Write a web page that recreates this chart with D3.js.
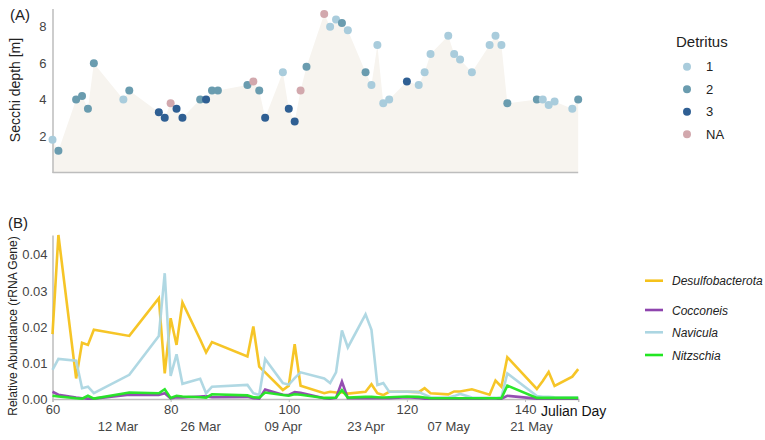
<!DOCTYPE html>
<html><head><meta charset="utf-8">
<script src="https://cdn.jsdelivr.net/npm/d3@7"></script>
<style>body{margin:0;background:#fff}svg{display:block;font-family:"Liberation Sans",Arial,sans-serif}</style>
</head><body>
<svg id="c" width="765" height="440"></svg>
<script>
// ---- Panel A data: Secchi depth ----
const secchiDays = [60,61,64,65,66,67,72,73,78,79,80,81,82,85,86,87,88,93,94,95,96,99,100,101,102,103,106,107,108,109,110,113,114,115,116,117,120,122,123,124,127,128,129,131,134,135,136,137,142,143,144,145,148,149];
const secchiDepth = [1.8,1.2,4.0,4.2,3.5,6.0,4.0,4.5,3.3,3.0,3.8,3.5,3.0,4.0,4.0,4.5,4.5,4.8,5.0,4.5,3.0,5.5,3.5,2.8,4.5,5.8,8.7,8.0,8.4,8.2,7.8,5.5,4.8,7.0,3.8,4.0,5.0,4.8,5.5,6.5,7.5,6.5,6.2,5.5,7.0,7.5,7.0,3.8,4.0,4.0,3.7,3.9,3.5,4.0];
const detritus = ["1","2","2","2","2","2","1","2","3","3","NA","3","3","2","3","2","2","2","NA","2","3","1","3","3","NA","2","NA","1","1","2","1","2","1","1","1","1","3","1","1","1","1","1","1","1","1","1","1","2","2","1","1","1","1","2"];
const detritusLevels = ["1","2","3","NA"];
const detritusColors = ["#a9ccdc","#6a9caf","#2f5f93","#d2a8ad"];
const secchiTicks = [2,4,6,8];

// ---- Panel B data: relative abundance ----
const abDays = [60,61,64,65,66,67,73,78,79,80,81,82,85,86,87,93,94,95,96,99,100,101,102,106,107,108,109,110,113,114,115,116,117,120,122,123,124,127,128,129,131,134,135,136,137,142,143,144,145,148,149];
const desulfo = [0.018,0.0455,0.0057,0.0156,0.015,0.0192,0.0175,0.028,0.0071,0.0224,0.015,0.0268,0.0165,0.0129,0.0158,0.0118,0.0201,0.009,0.0074,0.0025,0.0037,0.0152,0.0037,0.0016,0.002,0.0018,0.0018,0.0015,0.002,0.0041,0.0016,0.0011,0.002,0.002,0.0019,0.003,0.0016,0.0013,0.0021,0.0021,0.0027,0.0012,0.0051,0.0034,0.0116,0.0028,0.005,0.0075,0.0036,0.0062,0.0083];
const cocconeis = [0.002,0.0012,0.0004,0.0002,0.0001,0.0001,0.0012,0.0011,0.0016,0.0002,0.0005,0.0004,0.0007,0.0008,0.0005,0.0006,0.0002,0.0001,0.0026,0.0012,0.0011,0.0019,0.0017,0.0002,0.0001,0.0003,0.0048,0.0002,0.0002,0.0003,0.0002,0.0002,0.0002,0.0005,0.0003,0.0001,0.0001,0.0001,0.0001,0.0001,0.0001,0.0001,0.0001,0.0001,0.0009,0.0001,0.0001,0.0001,0.0001,0.0001,0.0001];
const navicula = [0.0081,0.0111,0.0106,0.003,0.0034,0.0016,0.0067,0.0175,0.0349,0.0064,0.0124,0.0042,0.0056,0.0016,0.0034,0.0039,0.0016,0.0011,0.0111,0.0044,0.004,0.0058,0.0074,0.0057,0.0044,0.0074,0.019,0.0143,0.0235,0.0192,0.0039,0.0044,0.002,0.0021,0.0019,0.0012,0.0005,0.0004,0.0008,0.0014,0.0004,0.0003,0.0003,0.0005,0.0071,0.0008,0.0006,0.0006,0.0005,0.0004,0.0004];
const nitzschia = [0.0009,0.0007,0.0002,0.0001,0.0009,0.0001,0.0018,0.0016,0.0027,0.0003,0.0009,0.0007,0.0005,0.0004,0.0013,0.001,0.0005,0.0004,0.0018,0.0011,0.0009,0.0013,0.0012,0.0003,0.0003,0.0004,0.0025,0.0004,0.0006,0.0006,0.0005,0.0004,0.0005,0.0007,0.0006,0.0004,0.0002,0.0002,0.0002,0.0002,0.0002,0.0002,0.0002,0.0002,0.0037,0.0003,0.0003,0.0003,0.0003,0.0003,0.0003];
const seriesNames = ["Desulfobacterota","Cocconeis","Navicula","Nitzschia"];
const seriesColors = ["#f5c21b","#8e44ad","#acd6e2","#22e622"];
const abTicks = [0,0.01,0.02,0.03,0.04];
const dayTicks = [60,80,100,120,140];
const dateTickDays = [71,85,99,113,127,141];
const dateTickLabels = ["12 Mar","26 Mar","09 Apr","23 Apr","07 May","21 May"];

const svg = d3.select("#c");
const x = d3.scaleLinear().domain([60,149]).range([52.5,578.2]);
const axisCol = "#bdbdbd";
const FF = "Liberation Sans, Arial, sans-serif";

// ---------- Panel A ----------
const yA = d3.scaleLinear().domain([0,9]).range([172.5,8.5]);
const ptsA = secchiDays.map((d,i)=>({d, v:secchiDepth[i], c:detritus[i]}));
svg.append("path").datum(ptsA)
  .attr("d", d3.area().x(p=>x(p.d)).y0(yA(0)).y1(p=>yA(p.v)))
  .attr("fill","#f7f4ef");
const gA = svg.append("g").attr("transform",`translate(52.5,0)`)
  .call(d3.axisLeft(yA).tickValues(secchiTicks).tickSize(0).tickPadding(6).tickFormat(d3.format("d")));
gA.select(".domain").attr("stroke",axisCol).attr("stroke-width",1.5);
gA.selectAll("text").attr("font-size",13).attr("fill","#444").attr("font-family",FF);
svg.append("line").attr("x1",52.5).attr("x2",x(149)).attr("y1",yA(0)).attr("y2",yA(0)).attr("stroke",axisCol).attr("stroke-width",1.5);
const colA = d3.scaleOrdinal().domain(detritusLevels).range(detritusColors);
svg.append("g").selectAll("circle").data(ptsA).join("circle")
  .attr("cx",p=>x(p.d)).attr("cy",p=>yA(p.v)).attr("r",4)
  .attr("fill",p=>colA(p.c));
svg.append("text").attr("x",10).attr("y",20).attr("font-size",15).attr("fill","#222").text("(A)");
svg.append("text").attr("transform","translate(20,90) rotate(-90)").attr("text-anchor","middle")
  .attr("font-size",14).attr("fill","#222").text("Secchi depth [m]");
// legend A
const lgA = svg.append("g");
lgA.append("text").attr("x",676).attr("y",47).attr("font-size",15).attr("fill","#222").text("Detritus");
detritusLevels.forEach((l,i)=>{
  const yy = 66.7 + i*22.5;
  lgA.append("circle").attr("cx",687).attr("cy",yy).attr("r",4).attr("fill",detritusColors[i]);
  lgA.append("text").attr("x",706).attr("y",yy+4.5).attr("font-size",13).attr("fill","#222").text(l);
});

// ---------- Panel B ----------
const yB = d3.scaleLinear().domain([0,0.0455]).range([399,235]);
const gB = svg.append("g").attr("transform","translate(52.5,0)")
  .call(d3.axisLeft(yB).tickValues(abTicks).tickSize(0).tickPadding(5).tickFormat(d3.format(".2f")));
gB.select(".domain").attr("stroke",axisCol).attr("stroke-width",1.5);
gB.selectAll("text").attr("font-size",13).attr("fill","#444").attr("font-family",FF);
const gX = svg.append("g").attr("transform",`translate(0,${yB(0)})`)
  .call(d3.axisBottom(x).tickValues(dayTicks).tickSize(3).tickPadding(3).tickFormat(d3.format("d")));
gX.select(".domain").attr("stroke",axisCol).attr("stroke-width",1.5);
gX.selectAll(".tick line").attr("stroke",axisCol);
gX.selectAll("text").attr("font-size",13).attr("fill","#444").attr("font-family",FF);
const gD = svg.append("g").attr("transform",`translate(0,${yB(0)})`)
  .call(d3.axisBottom(x).tickValues(dateTickDays).tickSize(0).tickPadding(23).tickFormat((d,i)=>dateTickLabels[i]));
gD.select(".domain").remove();
gD.selectAll("text").attr("font-size",13).attr("fill","#444").attr("font-family",FF);
svg.append("text").attr("x",541).attr("y",416).attr("font-size",14).attr("fill","#111").text("Julian Day");

const allSeries = [desulfo,cocconeis,navicula,nitzschia];
const line = d3.line().x(p=>x(p.d)).y(p=>yB(p.v));
allSeries.forEach((s,k)=>{
  svg.append("path").datum(abDays.map((d,i)=>({d,v:s[i]})))
    .attr("d",line).attr("fill","none").attr("stroke",seriesColors[k])
    .attr("stroke-width",2.6).attr("stroke-linejoin","miter").attr("stroke-opacity",0.95);
});
svg.append("text").attr("x",8).attr("y",228).attr("font-size",15).attr("fill","#222").text("(B)");
svg.append("text").attr("transform","translate(17,326) rotate(-90)").attr("text-anchor","middle")
  .attr("font-size",12).attr("fill","#222").text("Relative Abundance (rRNA Gene)");
// legend B
const lgB = svg.append("g");
const lyB = [280.7,310,332.3,355];
seriesNames.forEach((n,i)=>{
  lgB.append("line").attr("x1",645).attr("x2",663).attr("y1",lyB[i]).attr("y2",lyB[i])
    .attr("stroke",seriesColors[i]).attr("stroke-width",2.6);
  lgB.append("text").attr("x",672).attr("y",lyB[i]+4.5).attr("font-size",12).attr("font-style","italic")
    .attr("fill","#222").text(n);
});
</script>
</body></html>
